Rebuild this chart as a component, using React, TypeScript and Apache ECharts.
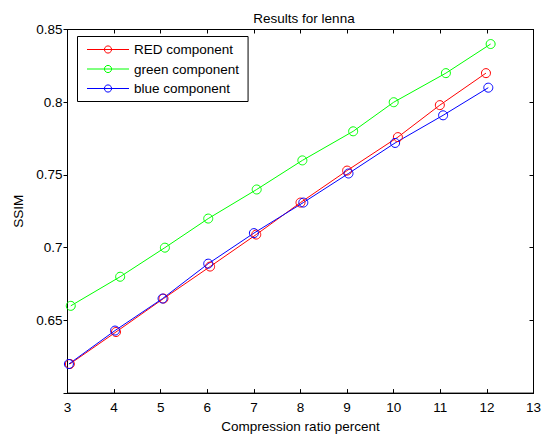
import React, { useEffect, useRef } from "react";
import * as echarts from "echarts";

const seriesNames = ["RED component", "green component", "blue component"];
const seriesColors = ["#ff0000", "#00ff00", "#0000ff"];

const redX = [3.05, 4.04, 5.06, 6.06, 7.05, 8.0, 9.0, 10.09, 10.99, 11.98];
const redY = [0.62, 0.642, 0.665, 0.687, 0.709, 0.731, 0.753, 0.776, 0.798, 0.82];
const greenX = [3.07, 4.13, 5.09, 6.02, 7.06, 8.04, 9.13, 10.0, 11.12, 12.08];
const greenY = [0.66, 0.68, 0.7, 0.72, 0.74, 0.76, 0.78, 0.8, 0.82, 0.84];
const blueX = [3.03, 4.02, 5.04, 6.02, 7.0, 8.06, 9.03, 10.03, 11.06, 12.03];
const blueY = [0.62, 0.643, 0.665, 0.689, 0.71, 0.731, 0.751, 0.772, 0.791, 0.81];

const titleText = "Results for lenna";
const xName = "Compression ratio percent";
const yName = "SSIM";

const FONT = "'Liberation Sans', Arial, Helvetica, sans-serif";
const FS = 13.5;

export default function App() {
  const ref = useRef<HTMLDivElement>(null);
  useEffect(() => {
    if (!ref.current) return;
    const chart = echarts.init(ref.current, null, { renderer: "svg" });
    const xs = [redX, greenX, blueX];
    const ys = [redY, greenY, blueY];
    const xBase = {
      type: "value" as const,
      min: 3,
      max: 13,
      interval: 1,
      splitLine: { show: false },
      axisLine: { show: true, lineStyle: { color: "#000", width: 1 } },
    };
    const yBase = {
      type: "value" as const,
      min: 0.6,
      max: 0.85,
      interval: 0.05,
      splitLine: { show: false },
      axisLine: { show: true, lineStyle: { color: "#000", width: 1 } },
    };
    chart.setOption({
      animation: false,
      backgroundColor: "#fff",
      textStyle: { fontFamily: FONT },
      title: {
        text: titleText,
        left: 299,
        top: 6,
        textAlign: "center",
        textStyle: { fontSize: FS, fontWeight: "normal", color: "#000", fontFamily: FONT },
      },
      grid: {
        left: 67.5,
        right: 15.5,
        top: 29.5,
        bottom: 41.2,
        show: true,
        borderColor: "#000",
        borderWidth: 1,
        backgroundColor: "#fff",
      },
      legend: {
        data: seriesNames,
        orient: "vertical",
        left: 77.5,
        top: 36.5,
        itemWidth: 42,
        itemHeight: 9,
        itemGap: 5.5,
        padding: [6, 9, 6, 9],
        borderColor: "#000",
        borderWidth: 1,
        backgroundColor: "#fff",
        itemStyle: { borderWidth: 1, color: "rgba(0,0,0,0)" },
        lineStyle: { width: 1 },
        textStyle: { fontSize: FS, color: "#000", fontFamily: FONT, padding: [0, 0, 0, 0] },
      },
      xAxis: [
        {
          ...xBase,
          position: "bottom",
          name: xName,
          nameLocation: "middle",
          nameGap: 24,
          nameTextStyle: { fontSize: FS, color: "#000", fontFamily: FONT },
          axisTick: { show: true, inside: true, length: 4, lineStyle: { color: "#000" } },
          axisLabel: { show: true, margin: 7, fontSize: FS, color: "#000", fontFamily: FONT },
        },
        {
          ...xBase,
          position: "top",
          axisTick: { show: true, inside: true, length: 4, lineStyle: { color: "#000" } },
          axisLabel: { show: false },
        },
      ],
      yAxis: [
        {
          ...yBase,
          position: "left",
          name: yName,
          nameLocation: "middle",
          nameGap: 39,
          nameTextStyle: { fontSize: FS, color: "#000", fontFamily: FONT },
          axisTick: { show: true, inside: false, length: 4, lineStyle: { color: "#000" } },
          axisLabel: {
            show: true,
            margin: 5,
            fontSize: FS,
            color: "#000",
            fontFamily: FONT,
            formatter: (v: number) => (v < 0.61 ? "" : String(+v.toFixed(2))),
          },
        },
        {
          ...yBase,
          position: "right",
          axisTick: { show: true, inside: true, length: 4, lineStyle: { color: "#000" } },
          axisLabel: { show: false },
        },
      ],
      series: seriesNames.map((name, k) => ({
        name,
        type: "line",
        xAxisIndex: 0,
        yAxisIndex: 0,
        data: xs[k].map((x, i) => [x, ys[k][i]]),
        symbol: "circle",
        symbolSize: 9,
        showSymbol: true,
        color: seriesColors[k],
        lineStyle: { color: seriesColors[k], width: 1 },
        itemStyle: { color: "rgba(0,0,0,0)", borderColor: seriesColors[k], borderWidth: 1 },
        emphasis: { disabled: true },
      })),
    });
    return () => chart.dispose();
  }, []);
  return (
    <div
      ref={ref}
      style={{ position: "absolute", left: 0, top: 0, width: 549, height: 438 }}
    />
  );
}
